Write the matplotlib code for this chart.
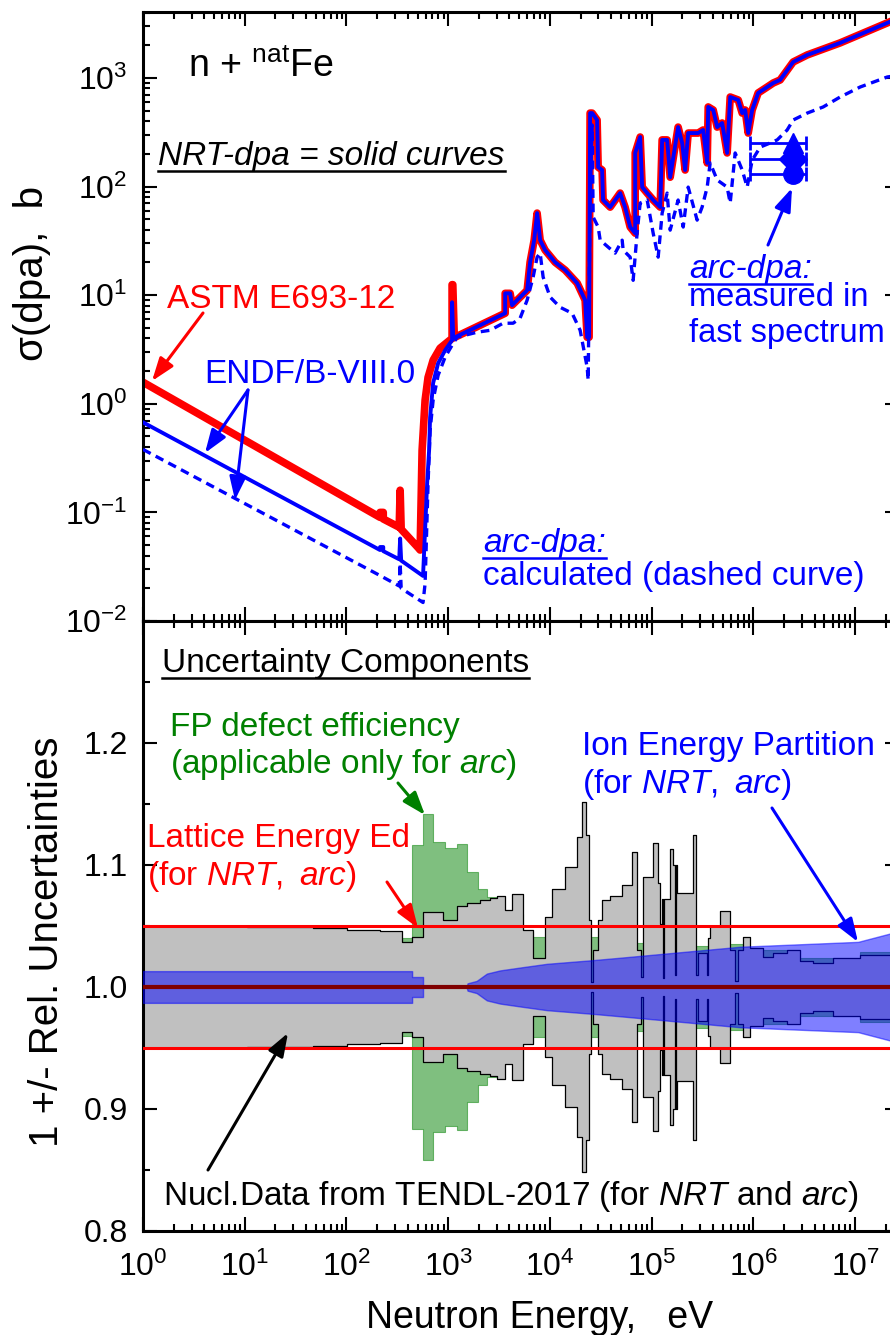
import numpy as np
import matplotlib
matplotlib.use('Agg')
import matplotlib.pyplot as plt
from matplotlib.ticker import LogLocator, FixedLocator, MultipleLocator, FormatStrFormatter, NullFormatter
from matplotlib.lines import Line2D
from matplotlib.patches import FancyArrowPatch

plt.rcParams['font.family'] = ['Liberation Sans', 'DejaVu Sans']
plt.rcParams['mathtext.fontset'] = 'custom'
plt.rcParams['mathtext.rm'] = 'Liberation Sans'
plt.rcParams['mathtext.it'] = 'Liberation Sans:italic'
plt.rcParams['mathtext.bf'] = 'Liberation Sans:bold'
plt.rcParams['axes.unicode_minus'] = False

# ---- top panel: dpa cross sections (eV, barn) ----
astm_e = [1, 214, 214, 230, 230, 330, 337, 345, 510, 530, 554, 593, 634, 711, 832, 1092, 1092, 1110, 1148]
astm_sig = [1.58, 0.090, 0.100, 0.100, 0.087, 0.073, 0.160, 0.070, 0.047, 0.045, 0.372, 1.08, 1.75, 2.52, 3.25,
            4.0, 12.5, 12.5, 4.07]

endf_e = [1, 214, 214, 230, 230, 330, 337, 345, 566, 621, 649, 664, 711, 796, 933, 1092, 1092, 1120, 1148]
endf_sig = [0.675, 0.045, 0.048, 0.048, 0.044, 0.037, 0.0575, 0.036, 0.026, 0.185, 0.372, 0.75, 1.55, 2.36, 3.11,
            3.85, 8.6, 4.0, 4.07]

# resonance region, NRT (ASTM and ENDF coincide)
res_e = [1148, 3631, 3631, 4064, 4246, 5970, 6383, 7000, 7482, 8017, 8974, 11250, 14130, 18540, 22180, 23230,
         24270, 24830, 26000, 29100, 29800, 32600, 33300, 39100, 49000, 54800, 61500, 68900, 68900, 77100, 80700,
         90400, 103500, 121300, 126800, 141900, 152100, 182000, 199500, 213300, 228600, 286400, 320600, 351600,
         359700, 402700, 440600, 493200, 552100, 591600, 709600, 776200, 829900, 889200, 972700, 1.114e6, 1.368e6,
         1.567e6, 1.832e6, 2.46e6, 3.381e6, 7.129e6, 2.07e7, 2.7e7]
res_sig = [4.07, 6.82, 10.4, 10.4, 8.09, 11.1, 20.1, 32.1, 57.0, 32.1, 26.0, 20.1, 17.0, 12.9, 9.0, 4.10,
           4.10, 475, 475, 410, 151, 142, 75.2, 64.7, 87.1, 64.7, 42.4, 37.2, 204, 286, 98.9,
           87.1, 75.2, 64.7, 269, 269, 122, 353, 252, 142, 311, 311, 332, 165,
           541, 507, 353, 385, 204, 668, 627, 475, 507, 311, 507, 728, 826,
           899, 959, 1403, 1629, 2104, 3214, 3570]

arc_e = [1, 214, 330, 337, 345, 566, 593, 634, 664, 711, 796, 933, 1092, 1222, 1923, 2582, 3467, 4345, 5093,
         5970, 6839, 7482, 8017, 8570, 10050, 12590, 16520, 19820, 23230, 23770, 24830, 26000, 26610, 29790,
         31190, 43750, 51290, 52480, 61520, 65770, 71940, 77090, 90360, 103500, 115900, 126800, 141900, 152100,
         182000, 204200, 228600, 279900, 313300, 351600, 375800, 440600, 552100, 591600, 662200, 776200, 868900,
         972700, 1.167e6, 1.462e6, 1.714e6, 2.148e6, 2.46e6, 3.381e6, 4.853e6, 7.129e6, 1.122e7, 2.07e7, 2.7e7]
arc_sig = [0.38, 0.0262, 0.021, 0.034, 0.020, 0.0148, 0.0222, 0.185, 0.570, 1.08, 1.83, 2.69, 3.46, 4.10, 4.56,
           4.75, 5.52, 5.52, 6.14, 9.0, 14.7, 22.4, 24.4, 14.7, 9.6, 7.74, 6.82, 4.75, 2.17, 1.65, 75.2, 369,
           52.4, 42.4, 32.1, 24.4, 32.1, 26.0, 22.4, 13.7, 37.2, 70.5, 75.2, 37.2, 22.4, 57.0, 87.1, 39.7,
           75.2, 42.4, 98.9, 49.1, 64.7, 98.9, 165, 115, 98.9, 70.5, 204, 142, 98.9, 175, 231, 252, 269,
           332, 410, 475, 541, 668, 826, 1021, 1060]

meas_e = [2.46e6, 2.46e6, 2.46e6]
meas_sig = [250, 180, 130]
meas_e_lo = [9.3e5, 9.3e5, 9.3e5]
meas_e_hi = [3.3e6, 3.3e6, 3.3e6]

# ---- bottom panel: relative uncertainties (histogram bin edges in eV) ----
gray_edges = [1, 10.5, 46.9, 101.4, 214, 352, 442, 566, 891, 1223, 1535, 2060, 2582, 3027, 3627, 4249, 5452,
              6836, 8972, 10510, 14110, 18510, 20730, 22700, 24290, 25410, 26300, 29790, 32590, 39080, 51290,
              64270, 71940, 78850, 82350, 103500, 115900, 121300, 126800, 129700, 132700, 152100, 162700, 170300,
              174200, 178200, 255900, 274000, 286400, 351600, 359700, 375800, 472000, 591600, 662200, 709600,
              794300, 930800, 1.247e6, 1.567e6, 2.148e6, 2.884e6, 3.873e6, 6.095e6, 1.122e7, 2.7e7]
gray_u = [0.050, 0.049, 0.048, 0.047, 0.046, 0.037, 0.041, 0.0615, 0.055, 0.066, 0.069, 0.071, 0.073, 0.075, 0.063,
          0.076, 0.047, 0.024, 0.057, 0.080, 0.098, 0.123, 0.152, 0.125, 0.055, 0.004, 0.030, 0.055, 0.071, 0.075,
          0.084, 0.111, 0.030, 0.008, 0.090, 0.118, 0.085, 0.052, 0.072, 0.007, 0.072, 0.113, 0.100, 0.010,
          0.100, 0.077, 0.125, 0.010, 0.028, 0.010, 0.040, 0.050, 0.062, 0.030, 0.005, 0.030, 0.041, 0.032,
          0.025, 0.028, 0.030, 0.021, 0.020, 0.024, 0.026]

green_edges = [352, 442, 566, 711, 933, 1223, 1535, 1968, 2411, 3027, 5452, 6836, 64270, 255900, 375800, 794300,
               1.247e6, 2.884e6, 1.122e7, 2.7e7]
green_u = [0.040, 0.116, 0.142, 0.119, 0.114, 0.117, 0.094, 0.080, 0.074, 0.060, 0.045, 0.041, 0.036, 0.034,
           0.035, 0.032, 0.030, 0.024, 0.029]

blue_e = [1, 442, 442, 566, 566, 1514, 1549, 1905, 2399, 3236, 5129, 9333, 26300, 48980, 741300, 1.07e7, 2.24e7, 2.7e7]
blue_u = [0.013, 0.013, 0.0082, 0.0082, 0, 0, 0.003, 0.005, 0.011, 0.0136, 0.016, 0.019, 0.022, 0.024, 0.033,
          0.037, 0.044, 0.047]

ed_u = 0.05

W, H = 890, 1335
fig = plt.figure(figsize=(W / 100, H / 100), dpi=100)


def fx(x):
    return x / W


def fy(y):
    return 1 - y / H


ax1 = fig.add_axes([fx(143), fy(621), fx(899) - fx(143), fy(12) - fy(621)])
ax2 = fig.add_axes([fx(143), fy(1231), fx(899) - fx(143), fy(621) - fy(1231)], sharex=ax1)

# top panel curves
red_e = np.concatenate([astm_e, res_e])
red_s = np.concatenate([astm_sig, res_sig])
blue_line_e = np.concatenate([endf_e, res_e])
blue_line_s = np.concatenate([endf_sig, res_sig])
ax1.plot(red_e, red_s, color='red', lw=5.5, zorder=2)
ax1.plot(blue_line_e, blue_line_s, color='blue', lw=2.8, zorder=3)
ax1.plot(arc_e, arc_sig, color='blue', lw=2.4, ls=(0, (2.6, 1.7)), zorder=3)

xerr = [np.array(meas_e) - np.array(meas_e_lo), np.array(meas_e_hi) - np.array(meas_e)]
for i, m in enumerate(['^', 'D', 'o']):
    ax1.errorbar(meas_e[i], meas_sig[i], xerr=[[xerr[0][i]], [xerr[1][i]]], fmt=m, color='blue',
                 ms=14, lw=2, capsize=5, capthick=2, zorder=4)

ax1.set_xscale('log')
ax1.set_yscale('log')
ax1.set_xlim(1, 2.7e7)
ax1.set_ylim(1e-2, 4.05e3)

# bottom panel bands
ge = np.array(gray_edges)
gu = np.append(gray_u, gray_u[-1])
gre = np.array(green_edges)
gru = np.append(green_u, green_u[-1])
ax2.fill_between(gre, 1 - gru, 1 + gru, step='post', facecolor='green', alpha=0.5, edgecolor='green',
                 lw=0.8, zorder=1)
ax2.fill_between(ge, 1 - gu, 1 + gu, step='post', facecolor='#c0c0c0', edgecolor='black', lw=0.9, zorder=2)
bu = np.array(blue_u)
ax2.fill_between(blue_e, 1 - bu, 1 + bu, facecolor='blue', alpha=0.5, edgecolor='blue', lw=1, zorder=3)
ax2.axhline(1 + ed_u, color='red', lw=2.2, zorder=4)
ax2.axhline(1 - ed_u, color='red', lw=2.2, zorder=4)
ax2.axhline(1.0, color='#800000', lw=3, zorder=5)
ax2.set_ylim(0.8, 1.3)

# axes styling
for ax in (ax1, ax2):
    ax.xaxis.set_major_locator(LogLocator(base=10, numticks=20))
    ax.xaxis.set_minor_locator(LogLocator(base=10, subs=np.arange(2, 10), numticks=200))
    ax.xaxis.set_minor_formatter(NullFormatter())
    ax.tick_params(which='both', direction='in', top=True, right=True, width=1.5, labelsize=23)
    ax.tick_params(which='major', length=10)
    ax.tick_params(which='minor', length=5)
    ax.tick_params(axis='x', pad=15)
    ax.tick_params(axis='y', pad=11)
    for s in ax.spines.values():
        s.set_linewidth(2.2)
ax1.yaxis.set_major_locator(LogLocator(base=10, numticks=20))
ax1.yaxis.set_minor_locator(LogLocator(base=10, subs=np.arange(2, 10), numticks=200))
ax1.yaxis.set_minor_formatter(NullFormatter())
ax1.tick_params(labelbottom=False)
ax2.yaxis.set_major_locator(FixedLocator([0.8, 0.9, 1.0, 1.1, 1.2]))
ax2.yaxis.set_minor_locator(MultipleLocator(0.05))
ax2.yaxis.set_major_formatter(FormatStrFormatter('%.1f'))
ax2.set_xlim(1, 2.7e7)

# axis labels
fig.text(fx(540), fy(1328), 'Neutron Energy,   eV', ha='center', va='baseline', size=27)
fig.text(fx(43), fy(273), 'σ(dpa),  b', rotation=90, rotation_mode='anchor', ha='center', va='baseline', size=29)
fig.text(fx(58), fy(942), '1 +/- Rel. Uncertainties', rotation=90, rotation_mode='anchor', ha='center',
         va='baseline', size=29)


def label(x, y, s, color='black', size=24, **kw):
    # y is the baseline of the last line
    return fig.text(fx(x), fy(y), s, color=color, size=size, ha='left', va='baseline', **kw)


def arrow(x0, y0, x1, y1, color):
    fig.add_artist(FancyArrowPatch(
        (fx(x0), fy(y0)), (fx(x1), fy(y1)), transform=fig.transFigure,
        arrowstyle='-|>,head_length=0.7,head_width=0.25', mutation_scale=20, lw=2.2, color=color,
        shrinkA=0, shrinkB=0, zorder=10))


nrt_arc = r'$\mathit{NRT,}$ $\mathit{arc}$'
under = []
label(188, 77, r'n + $^{\mathrm{nat}}$Fe', size=27)
under.append((label(158, 165, 'NRT-dpa = solid curves', style='italic'), 171, 'black'))
label(167, 308, 'ASTM E693-12', color='red')
label(204, 383, 'ENDF/B-VIII.0', color='blue')
under.append((label(483, 552, 'arc-dpa:', color='blue', style='italic'), 558, 'blue'))
label(483, 585, 'calculated (dashed curve)', color='blue')
under.append((label(689, 278, 'arc-dpa:', color='blue', style='italic'), 284, 'blue'))
label(689, 342, 'measured in\nfast spectrum', color='blue', size=23.5, linespacing=1.2)

under.append((label(162, 672, 'Uncertainty Components'), 678, 'black'))
label(170, 773, 'FP defect efficiency\n' + r'(applicable only for $\mathit{arc}$)', color='green',
      linespacing=1.15)
label(147, 885, 'Lattice Energy Ed\n(for ' + nrt_arc + ')', color='red', linespacing=1.2)
label(582, 793, 'Ion Energy Partition\n(for ' + nrt_arc + ')', color='blue', linespacing=1.2)
label(163, 1205, r'Nucl.Data from TENDL-2017 (for $\mathit{NRT}$ and $\mathit{arc}$)')

arrow(203, 313, 152, 381, 'red')
arrow(248, 390, 205, 453, 'blue')
arrow(248, 390, 235, 500, 'blue')
arrow(768, 245, 792, 188, 'blue')
arrow(398, 783, 425, 815, 'green')
arrow(387, 882, 418, 928, 'red')
arrow(772, 808, 858, 942, 'blue')
arrow(208, 1170, 288, 1033, 'black')

fig.canvas.draw()
for t, yu, c in under:
    bb = t.get_window_extent()
    fig.add_artist(Line2D([fx(bb.x0), fx(bb.x1)], [fy(yu), fy(yu)], transform=fig.transFigure,
                          color=c, lw=1.8))

fig.savefig('out.png', dpi=100)
